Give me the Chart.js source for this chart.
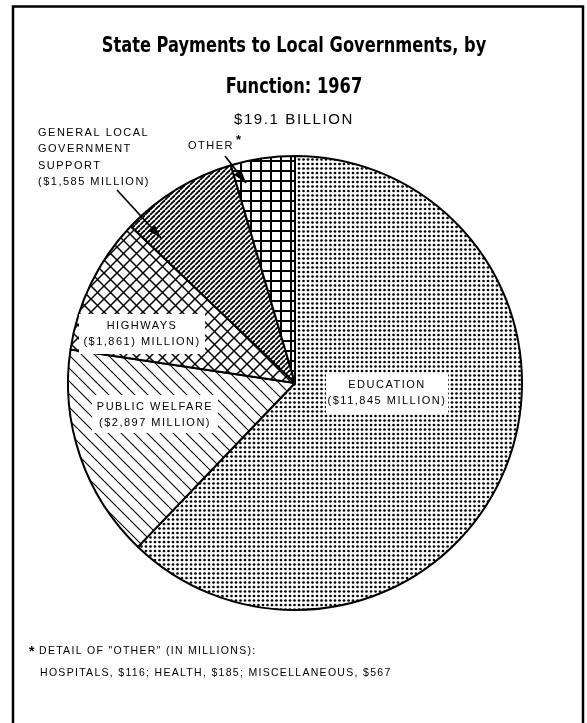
<!DOCTYPE html>
<html>
<head>
<meta charset="utf-8">
<title>State Payments to Local Governments, by Function: 1967</title>
<script src="https://cdn.jsdelivr.net/npm/chart.js@4.4.0/dist/chart.umd.min.js"></script>
<style>
  html, body { margin: 0; padding: 0; background: #fff; }
  #wrap { width: 587px; height: 723px; position: relative; }
</style>
</head>
<body>
<div id="wrap"><canvas id="payChart" width="587" height="723"></canvas></div>
<script>
// state payments by function, millions of dollars
const functions = ['Education', 'Public welfare', 'Highways', 'General local government support', 'Other'];
const payments = [11845, 2897, 1861, 1585, 868];
// detail of "other"
const otherItems = ['HOSPITALS', 'HEALTH', 'MISCELLANEOUS'];
const otherPayments = [116, 185, 567];
const totalLabel = '$19.1 BILLION';

function money(v) {
  return '$' + v.toLocaleString('en-US');
}

// ---- hatch patterns ----
function tile(size, draw) {
  let c = document.createElement('canvas');
  c.width = size; c.height = size;
  let g = c.getContext('2d');
  g.fillStyle = '#fff';
  g.fillRect(0, 0, size, size);
  g.strokeStyle = '#000';
  g.fillStyle = '#000';
  draw(g, size);
  return c;
}

function dots() {
  return tile(9, (g) => {
    [[0, 0], [4.5, 0], [0, 4.5], [4.5, 4.5]].forEach(([x, y]) => {
      g.beginPath();
      g.arc(x + 2, y + 2, 1.35, 0, Math.PI * 2);
      g.fill();
    });
  });
}

function slashes(size, width, back) {
  return tile(size, (g, s) => {
    g.lineWidth = width;
    for (let k = -1; k <= 1; k++) {
      g.beginPath();
      if (back) { g.moveTo(k * s, 0); g.lineTo(k * s + s, s); }
      else { g.moveTo(k * s, s); g.lineTo(k * s + s, 0); }
      g.stroke();
    }
  });
}

function diamonds(size, width) {
  return tile(size, (g, s) => {
    g.lineWidth = width;
    for (let k = -1; k <= 1; k++) {
      g.beginPath();
      g.moveTo(k * s, 0); g.lineTo(k * s + s, s);
      g.moveTo(k * s, s); g.lineTo(k * s + s, 0);
      g.stroke();
    }
  });
}

function squares(size, width) {
  return tile(size, (g, s) => {
    g.fillRect(0, 0, s, width);
    g.fillRect(0, 0, width, s);
  });
}

let ctx = document.getElementById('payChart').getContext('2d');
let fills = [
  ctx.createPattern(dots(), 'repeat'),
  ctx.createPattern(slashes(13, 1.1, true), 'repeat'),
  ctx.createPattern(diamonds(13, 1.5), 'repeat'),
  ctx.createPattern(slashes(5, 1.8, false), 'repeat'),
  ctx.createPattern(squares(10, 2), 'repeat')
];

// labels sitting on the slices, offsets from the pie centre
let sliceLabels = [
  { lines: ['EDUCATION', '(' + money(payments[0]) + ' MILLION)'], dx: 92, dy: 2, w: 122, h: 40 },
  { lines: ['PUBLIC WELFARE', '(' + money(payments[1]) + ' MILLION)'], dx: -140, dy: 24, w: 126, h: 38 },
  { lines: ['HIGHWAYS', '(' + money(payments[2]) + ') MILLION)'], dx: -153, dy: -57, w: 126, h: 40 }
];

function arrow(c, x1, y1, x2, y2) {
  let a = Math.atan2(y2 - y1, x2 - x1);
  c.lineWidth = 1.7;
  c.beginPath();
  c.moveTo(x1, y1);
  c.lineTo(x2, y2);
  c.stroke();
  c.beginPath();
  c.moveTo(x2, y2);
  c.lineTo(x2 - 14 * Math.cos(a) + 4.5 * Math.sin(a), y2 - 14 * Math.sin(a) - 4.5 * Math.cos(a));
  c.lineTo(x2 - 14 * Math.cos(a) - 4.5 * Math.sin(a), y2 - 14 * Math.sin(a) + 4.5 * Math.cos(a));
  c.closePath();
  c.fill();
}

const annotations = {
  id: 'annotations',
  beforeDraw(chart) {
    let c = chart.ctx;
    c.save();
    c.fillStyle = '#fff';
    c.fillRect(0, 0, chart.width, chart.height);
    c.restore();
  },
  afterDraw(chart) {
    let c = chart.ctx;
    let arc = chart.getDatasetMeta(0).data[0];
    let cx = arc.x, cy = arc.y;
    c.save();

    // frame
    c.strokeStyle = '#000';
    c.lineWidth = 2.5;
    c.strokeRect(13, 6.5, 570, 740);

    // title, squeezed to a condensed face
    c.fillStyle = '#000';
    c.textAlign = 'center';
    c.textBaseline = 'alphabetic';
    c.save();
    c.scale(0.86, 1);
    c.font = 'bold 21px "Liberation Sans Narrow", "DejaVu Sans Condensed", sans-serif';
    c.fillText('State Payments to Local Governments, by', 294 / 0.86, 52);
    c.fillText('Function: 1967', 294 / 0.86, 93);
    c.restore();

    c.font = '15px "Liberation Sans", Arial, sans-serif';
    c.letterSpacing = '1.6px';
    c.fillText(totalLabel, 294, 124);

    // labels on the slices
    c.font = '11px "Liberation Sans", Arial, sans-serif';
    c.letterSpacing = '1.5px';
    c.textBaseline = 'middle';
    sliceLabels.forEach((l) => {
      let x = cx + l.dx, y = cy + l.dy;
      c.fillStyle = '#fff';
      c.fillRect(x - l.w / 2, y - 12, l.w, l.h);
      c.fillStyle = '#000';
      l.lines.forEach((t, i) => c.fillText(t, x, y + i * 16));
    });

    // outside labels with arrows
    c.textAlign = 'left';
    ['GENERAL LOCAL', 'GOVERNMENT', 'SUPPORT', '(' + money(payments[3]) + ' MILLION)']
      .forEach((t, i) => c.fillText(t, 38, 133 + i * 16.4));
    c.fillText('OTHER', 188, 146);
    c.font = 'bold 13px "Liberation Sans", Arial, sans-serif';
    c.fillText('*', 236, 140);

    c.strokeStyle = '#000';
    c.fillStyle = '#000';
    arrow(c, 117, 190, 161, 238);
    arrow(c, 225, 156, 246, 183);

    // footnote
    c.font = 'bold 14px "Liberation Sans", Arial, sans-serif';
    c.letterSpacing = '0px';
    c.fillText('*', 29, 652);
    c.font = '10.5px "Liberation Sans", Arial, sans-serif';
    c.letterSpacing = '1.3px';
    c.fillText('DETAIL OF "OTHER" (IN MILLIONS):', 39, 651);
    let parts = otherItems.map((n, i) => n + ', $' + otherPayments[i]);
    c.fillText(parts.join('; '), 40, 673);
    c.restore();
  }
};

let payChart = new Chart(ctx, {
  type: 'pie',
  data: {
    labels: functions,
    datasets: [{
      data: payments,
      backgroundColor: fills,
      borderColor: '#000',
      borderWidth: 2
    }]
  },
  options: {
    responsive: false,
    animation: false,
    events: [],
    layout: {
      padding: { left: 67, right: 64, top: 155, bottom: 112 }
    },
    plugins: {
      legend: { display: false },
      tooltip: { enabled: false }
    }
  },
  plugins: [annotations]
});
</script>
</body>
</html>
